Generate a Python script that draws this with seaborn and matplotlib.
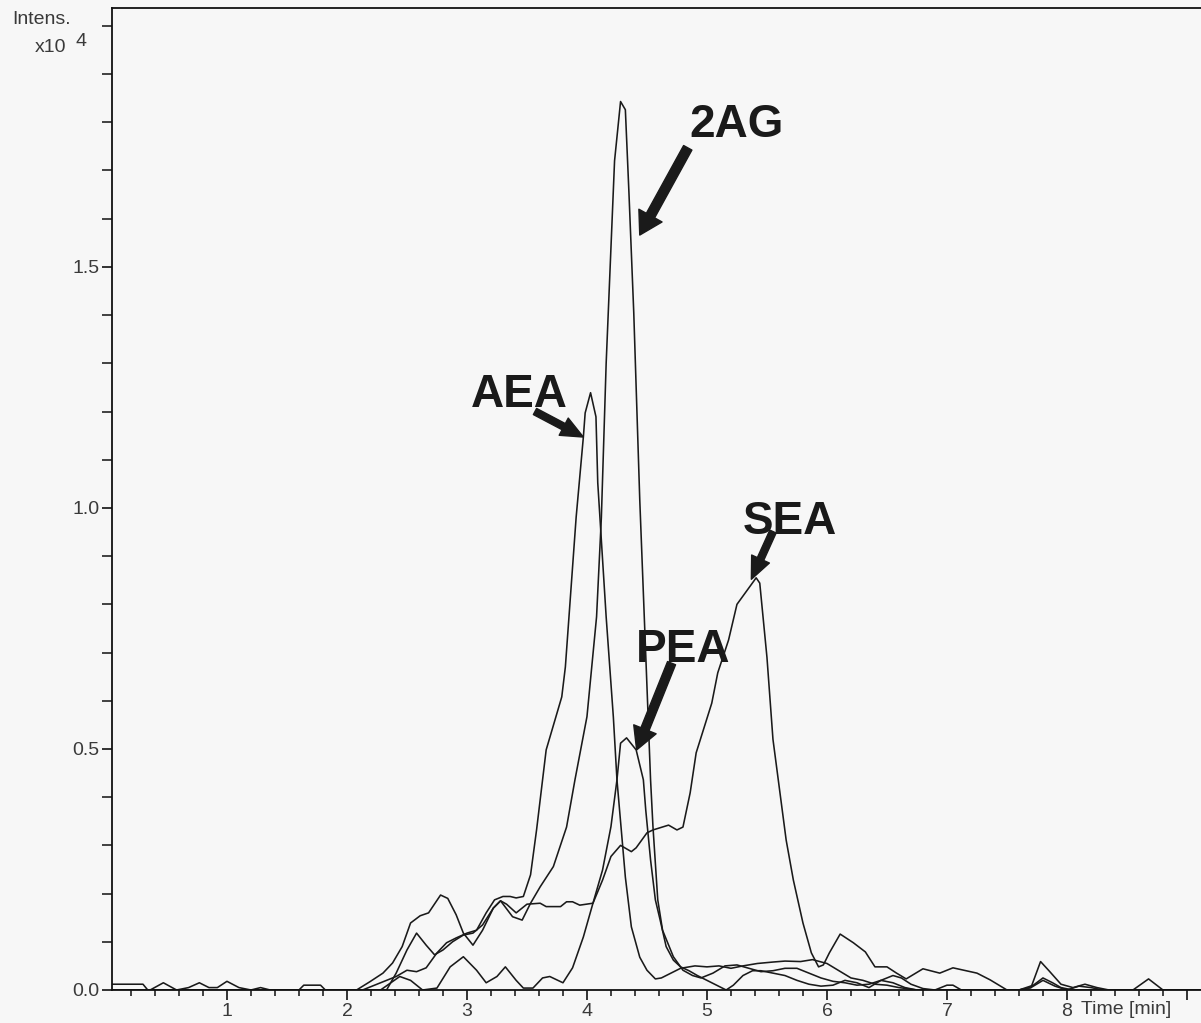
import matplotlib
matplotlib.use("Agg")
import matplotlib.pyplot as plt
import numpy as np
import pandas as pd
import seaborn as sns
from matplotlib.ticker import MultipleLocator, FixedLocator, FormatStrFormatter

# ---------------- data (time in min, intensity in x10^4) ----------------
sea_t = [0.04, 2.08, 2.19, 2.30, 2.38, 2.46, 2.53, 2.61, 2.68, 2.78, 2.84, 2.91, 2.97, 3.05, 3.13,
         3.22, 3.28, 3.33, 3.41, 3.50, 3.61, 3.66, 3.78, 3.83, 3.88, 3.94, 4.05, 4.13, 4.20, 4.28,
         4.37, 4.41, 4.50, 4.55, 4.68, 4.75, 4.80, 4.86, 4.91, 5.04, 5.09, 5.18, 5.25, 5.41, 5.44,
         5.50, 5.55, 5.66, 5.72, 5.80, 5.87, 5.93, 5.97, 6.02, 6.11, 6.22, 6.32, 6.40, 6.50, 6.58,
         6.66, 6.80, 6.94, 7.05, 7.25, 7.36, 7.50, 9.15]
sea_v = [0.0, 0.0, 0.017, 0.035, 0.056, 0.090, 0.139, 0.154, 0.160, 0.197, 0.190, 0.156, 0.118, 0.093,
         0.124, 0.170, 0.185, 0.178, 0.160, 0.178, 0.180, 0.173, 0.173, 0.183, 0.183, 0.176, 0.180,
         0.228, 0.277, 0.300, 0.287, 0.295, 0.326, 0.332, 0.342, 0.332, 0.338, 0.409, 0.492, 0.595,
         0.658, 0.726, 0.800, 0.855, 0.844, 0.690, 0.520, 0.311, 0.228, 0.139, 0.077, 0.048, 0.052,
         0.077, 0.116, 0.098, 0.079, 0.048, 0.048, 0.035, 0.023, 0.044, 0.035, 0.046, 0.035, 0.021,
         0.0, 0.0]

ag_t = [0.04, 1.60, 1.64, 1.78, 1.82, 2.33, 2.41, 2.50, 2.58, 2.66, 2.73, 2.80, 2.88, 2.97, 3.05,
        3.13, 3.22, 3.28, 3.38, 3.46, 3.53, 3.61, 3.72, 3.83, 3.90, 4.00, 4.08, 4.12, 4.16, 4.20,
        4.23, 4.28, 4.32, 4.35, 4.39, 4.44, 4.53, 4.55, 4.59, 4.63, 4.72, 4.80, 4.88, 4.95, 5.05,
        5.15, 5.25, 5.35, 5.45, 5.55, 5.65, 5.75, 5.85, 5.95, 6.05, 6.15, 6.25, 6.35, 6.45, 6.55,
        6.65, 6.75, 7.60, 7.72, 7.80, 7.88, 7.95, 8.05, 9.15]
ag_v = [0.0, 0.0, 0.010, 0.010, 0.0, 0.0, 0.035, 0.083, 0.118, 0.093, 0.073, 0.083, 0.100, 0.114,
        0.118, 0.135, 0.170, 0.185, 0.152, 0.145, 0.180, 0.214, 0.256, 0.338, 0.436, 0.567, 0.774,
        0.980, 1.300, 1.540, 1.720, 1.843, 1.826, 1.653, 1.405, 1.017, 0.436, 0.339, 0.187, 0.124,
        0.069, 0.041, 0.030, 0.025, 0.035, 0.050, 0.052, 0.045, 0.038, 0.040, 0.045, 0.045, 0.035,
        0.025, 0.018, 0.015, 0.010, 0.012, 0.020, 0.015, 0.005, 0.0, 0.0, 0.010, 0.025, 0.015,
        0.005, 0.0, 0.0]

aea_t = [0.04, 0.30, 0.34, 2.13, 2.28, 2.41, 2.50, 2.58, 2.66, 2.75, 2.83, 2.91, 3.00, 3.08, 3.16,
         3.23, 3.30, 3.36, 3.41, 3.47, 3.53, 3.58, 3.62, 3.66, 3.79, 3.82, 3.91, 3.97, 3.985, 4.03,
         4.075, 4.09, 4.16, 4.22, 4.25, 4.32, 4.37, 4.44, 4.50, 4.57, 4.62, 4.70, 4.78, 4.90, 5.00,
         5.10, 5.20, 5.30, 5.42, 5.55, 5.65, 5.78, 5.88, 6.00, 6.10, 6.20, 6.30, 6.40, 6.50, 6.60,
         6.75, 7.60, 7.70, 7.80, 7.90, 8.00, 8.10, 8.20, 8.30, 9.15]
aea_v = [0.012, 0.012, 0.0, 0.0, 0.015, 0.028, 0.041, 0.038, 0.046, 0.077, 0.098, 0.108, 0.118,
         0.124, 0.160, 0.187, 0.194, 0.194, 0.191, 0.194, 0.239, 0.332, 0.415, 0.498, 0.608, 0.670,
         0.981, 1.147, 1.197, 1.239, 1.189, 1.052, 0.774, 0.566, 0.436, 0.234, 0.131, 0.068, 0.041,
         0.023, 0.025, 0.035, 0.045, 0.050, 0.048, 0.050, 0.045, 0.050, 0.055, 0.058, 0.060, 0.059,
         0.063, 0.055, 0.040, 0.025, 0.020, 0.012, 0.010, 0.005, 0.0, 0.0, 0.005, 0.020, 0.008,
         0.0, 0.008, 0.005, 0.0, 0.0]

pea_t = [0.04, 0.36, 0.47, 0.58, 0.68, 0.77, 0.85, 0.92, 1.00, 1.10, 1.20, 1.28, 1.36, 2.28, 2.44,
         2.53, 2.63, 2.75, 2.86, 2.97, 3.08, 3.16, 3.25, 3.32, 3.41, 3.47, 3.55, 3.63, 3.69, 3.80,
         3.88, 3.97, 4.05, 4.13, 4.20, 4.25, 4.28, 4.33, 4.41, 4.47, 4.49, 4.53, 4.57, 4.61, 4.66,
         4.72, 4.78, 4.85, 4.92, 5.00, 5.08, 5.16, 5.22, 5.30, 5.38, 5.45, 5.55, 5.65, 5.75, 5.85,
         5.95, 6.05, 6.15, 6.25, 6.35, 6.45, 6.55, 6.62, 6.70, 6.80, 6.90, 7.00, 7.05, 7.12, 7.60,
         7.70, 7.78, 7.85, 7.95, 8.05, 8.15, 8.25, 8.35, 8.55, 8.68, 8.80, 9.15]
pea_v = [0.0, 0.0, 0.015, 0.0, 0.005, 0.015, 0.005, 0.005, 0.018, 0.005, 0.0, 0.005, 0.0, 0.0, 0.028,
         0.020, 0.0, 0.004, 0.048, 0.069, 0.041, 0.015, 0.028, 0.048, 0.020, 0.004, 0.004, 0.025,
         0.028, 0.015, 0.046, 0.110, 0.180, 0.249, 0.339, 0.436, 0.512, 0.523, 0.498, 0.436, 0.373,
         0.270, 0.187, 0.145, 0.090, 0.062, 0.048, 0.040, 0.030, 0.020, 0.010, 0.0, 0.010, 0.030,
         0.040, 0.040, 0.035, 0.030, 0.020, 0.012, 0.008, 0.010, 0.020, 0.015, 0.005, 0.020, 0.030,
         0.025, 0.012, 0.003, 0.0, 0.010, 0.010, 0.0, 0.0, 0.005, 0.059, 0.040, 0.012, 0.005, 0.012,
         0.005, 0.0, 0.0, 0.023, 0.0, 0.0]

x_tick_values = [1, 2, 3, 4, 5, 6, 7, 8, 9]
x_tick_labels = ["1", "2", "3", "4", "5", "6", "7", "8", ""]
y_tick_values = [0.0, 0.5, 1.0, 1.5]

peak_labels = ["2AG", "AEA", "SEA", "PEA"]

# ---------------- assemble ----------------
frames = []
for name, t, v in [("SEA", sea_t, sea_v), ("2AG", ag_t, ag_v),
                   ("AEA", aea_t, aea_v), ("PEA", pea_t, pea_v)]:
    frames.append(pd.DataFrame({"time": t, "intensity": v, "compound": name}))
df = pd.concat(frames, ignore_index=True)

sns.set_theme(style="ticks")
plt.rcParams["font.family"] = ["Liberation Sans", "DejaVu Sans"]

BG = "#f7f7f7"
INK = "#1a1a1a"
TXT = "#3a3a3a"

W, H = 1201, 1023
fig = plt.figure(figsize=(W / 100, H / 100), dpi=100, facecolor=BG)
ax = fig.add_axes([112 / W, 33 / H, 1 - 112 / W, (990 - 8) / H])
ax.set_facecolor(BG)

sns.lineplot(data=df, x="time", y="intensity", units="compound", estimator=None,
             color=INK, linewidth=1.15, sort=False, legend=False, ax=ax)

ax.set_xlim(0.042, 9.117)
ax.set_ylim(0.0, 2.037)
ax.set_xlabel("")
ax.set_ylabel("")

for side in ["left", "top", "bottom"]:
    ax.spines[side].set_color("#111111")
    ax.spines[side].set_linewidth(1.3)
ax.spines["right"].set_visible(False)

ax.xaxis.set_major_locator(FixedLocator(x_tick_values))
ax.set_xticklabels(x_tick_labels)
ax.xaxis.set_minor_locator(MultipleLocator(0.2))
ax.yaxis.set_major_locator(FixedLocator(y_tick_values))
ax.yaxis.set_major_formatter(FormatStrFormatter("%.1f"))
ax.yaxis.set_minor_locator(MultipleLocator(0.1))

ax.tick_params(axis="x", which="major", direction="out", length=7.5, width=1.2,
               color="#111111", pad=1.5, labelsize=14, labelcolor=TXT)
ax.tick_params(axis="x", which="minor", direction="out", length=4.5, width=1.1, color="#111111")
ax.tick_params(axis="y", which="major", direction="out", length=7.5, width=1.2,
               color="#111111", pad=1.5, labelsize=14, labelcolor=TXT)
ax.tick_params(axis="y", which="minor", direction="out", length=7.5, width=1.1, color="#111111")

# axis captions
fig.text(12 / W, 1 - 20 / H, "Intens.", fontsize=14, color=TXT, ha="left", va="center")
fig.text(35 / W, 1 - 48 / H, "x10", fontsize=14, color=TXT, ha="left", va="center")
fig.text(75 / W, 1 - 42 / H, "4", fontsize=14, color=TXT, ha="left", va="center")
fig.text(1081 / W, 1 - 1009 / H, "Time [min]", fontsize=14, color=TXT, ha="left", va="center")

# peak labels with arrows
label_pos = {"2AG": (5.25, 1.795), "AEA": (3.44, 1.234), "SEA": (5.69, 0.971), "PEA": (4.80, 0.705)}
arrow_from = {"2AG": (4.84, 1.747), "AEA": (3.567, 1.200), "SEA": (5.55, 0.951), "PEA": (4.705, 0.678)}
arrow_to = {"2AG": (4.44, 1.566), "AEA": (3.97, 1.147), "SEA": (5.37, 0.852), "PEA": (4.414, 0.498)}
arrow_w = {"2AG": 6.8, "AEA": 5.0, "SEA": 5.0, "PEA": 6.2}

for name in peak_labels:
    ax.text(*label_pos[name], name, fontsize=33, fontweight="bold", color=INK,
            ha="center", va="center")
    ax.annotate("", xy=arrow_to[name], xytext=arrow_from[name],
                arrowprops=dict(facecolor=INK, edgecolor=INK, width=arrow_w[name],
                                headwidth=arrow_w[name] * 2.8, headlength=16, shrink=0.0))

fig.savefig("out.png", dpi=100, facecolor=BG)
